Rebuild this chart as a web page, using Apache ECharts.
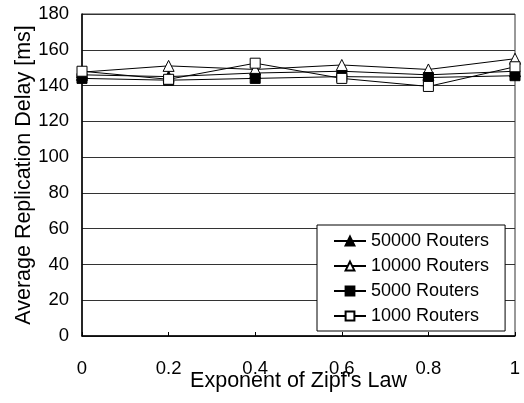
<!DOCTYPE html>
<html><head><meta charset="utf-8">
<script src="https://cdn.jsdelivr.net/npm/echarts@6/dist/echarts.min.js"></script>
<style>html,body{margin:0;padding:0;background:#fff}#c{width:524px;height:403px}</style>
</head><body><div id="c"></div>
<script>
var exponents = [0, 0.2, 0.4, 0.6, 0.8, 1];
var routers50000 = [146, 145, 147, 148, 146, 148];
var routers10000 = [147.5, 151, 149, 151.5, 149, 155];
var routers5000 = [144, 143, 144, 145, 144.5, 145.5];
var routers1000 = [148, 143.5, 152.5, 144, 139.5, 150.5];
var yTicks = [0, 20, 40, 60, 80, 100, 120, 140, 160, 180];
var xTicks = [0, 0.2, 0.4, 0.6, 0.8, 1];

function pairs(v){ return exponents.map(function(x,i){ return [x, v[i]]; }); }
var font = 'Liberation Sans, Arial, sans-serif';
function mk(name, vals, symbol, filled, size){
  return {
    name: name, type: 'line', data: pairs(vals),
    symbol: symbol, symbolSize: size,
    lineStyle: {color: '#000', width: 1},
    itemStyle: {color: filled ? '#000' : '#fff', borderColor: '#000', borderWidth: 1},
    emphasis: {disabled: true}, animation: false
  };
}
var chart = echarts.init(document.getElementById('c'), null, {renderer: 'canvas'});
chart.setOption({
  backgroundColor: '#fff',
  animation: false,
  textStyle: {fontFamily: font, color: '#000'},
  grid: {left: 82, right: 9, top: 14, bottom: 67, containLabel: false, outerBoundsMode: 'none',
    show: true, borderColor: '#333', borderWidth: 1, backgroundColor: 'transparent'},
  xAxis: {
    type: 'value', min: 0, max: 1, interval: 0.2,
    name: "Exponent of Zipf's Law", nameLocation: 'middle', nameGap: 34, nameMoveOverlap: false,
    nameTextStyle: {fontSize: 21.5, color: '#000', fontFamily: font},
    axisLine: {lineStyle: {color: '#000', width: 1.5}},
    axisTick: {inside: true, length: 4, lineStyle: {color: '#000'}},
    axisLabel: {fontSize: 18.5, color: '#000', margin: 23, fontFamily: font,
      formatter: function(v){ return String(Math.round(v*10)/10); }},
    splitLine: {show: false}
  },
  yAxis: {
    type: 'value', min: 0, max: 180, interval: 20,
    name: 'Average Replication Delay [ms]', nameLocation: 'middle', nameGap: 47, nameMoveOverlap: false,
    nameTextStyle: {fontSize: 21.5, color: '#000', fontFamily: font},
    axisLine: {show: true, lineStyle: {color: '#000', width: 1.5}},
    axisTick: {show: false},
    axisLabel: {fontSize: 18.5, color: '#000', margin: 13, fontFamily: font},
    splitLine: {show: true, lineStyle: {color: '#333', width: 1}}
  },
  legend: {
    orient: 'vertical', left: 317, top: 225,
    padding: [7, 16, 6, 16], itemGap: 7, itemWidth: 32, itemHeight: 11,
    backgroundColor: '#fff', borderColor: '#000', borderWidth: 1,
    textStyle: {fontSize: 18, color: '#000', fontFamily: font},
    data: ['50000 Routers', '10000 Routers', '5000 Routers', '1000 Routers']
  },
  series: [
    mk('50000 Routers', routers50000, 'triangle', true, 11),
    mk('10000 Routers', routers10000, 'triangle', false, 11),
    mk('5000 Routers', routers5000, 'rect', true, 10),
    mk('1000 Routers', routers1000, 'rect', false, 10)
  ]
});
</script></body></html>
